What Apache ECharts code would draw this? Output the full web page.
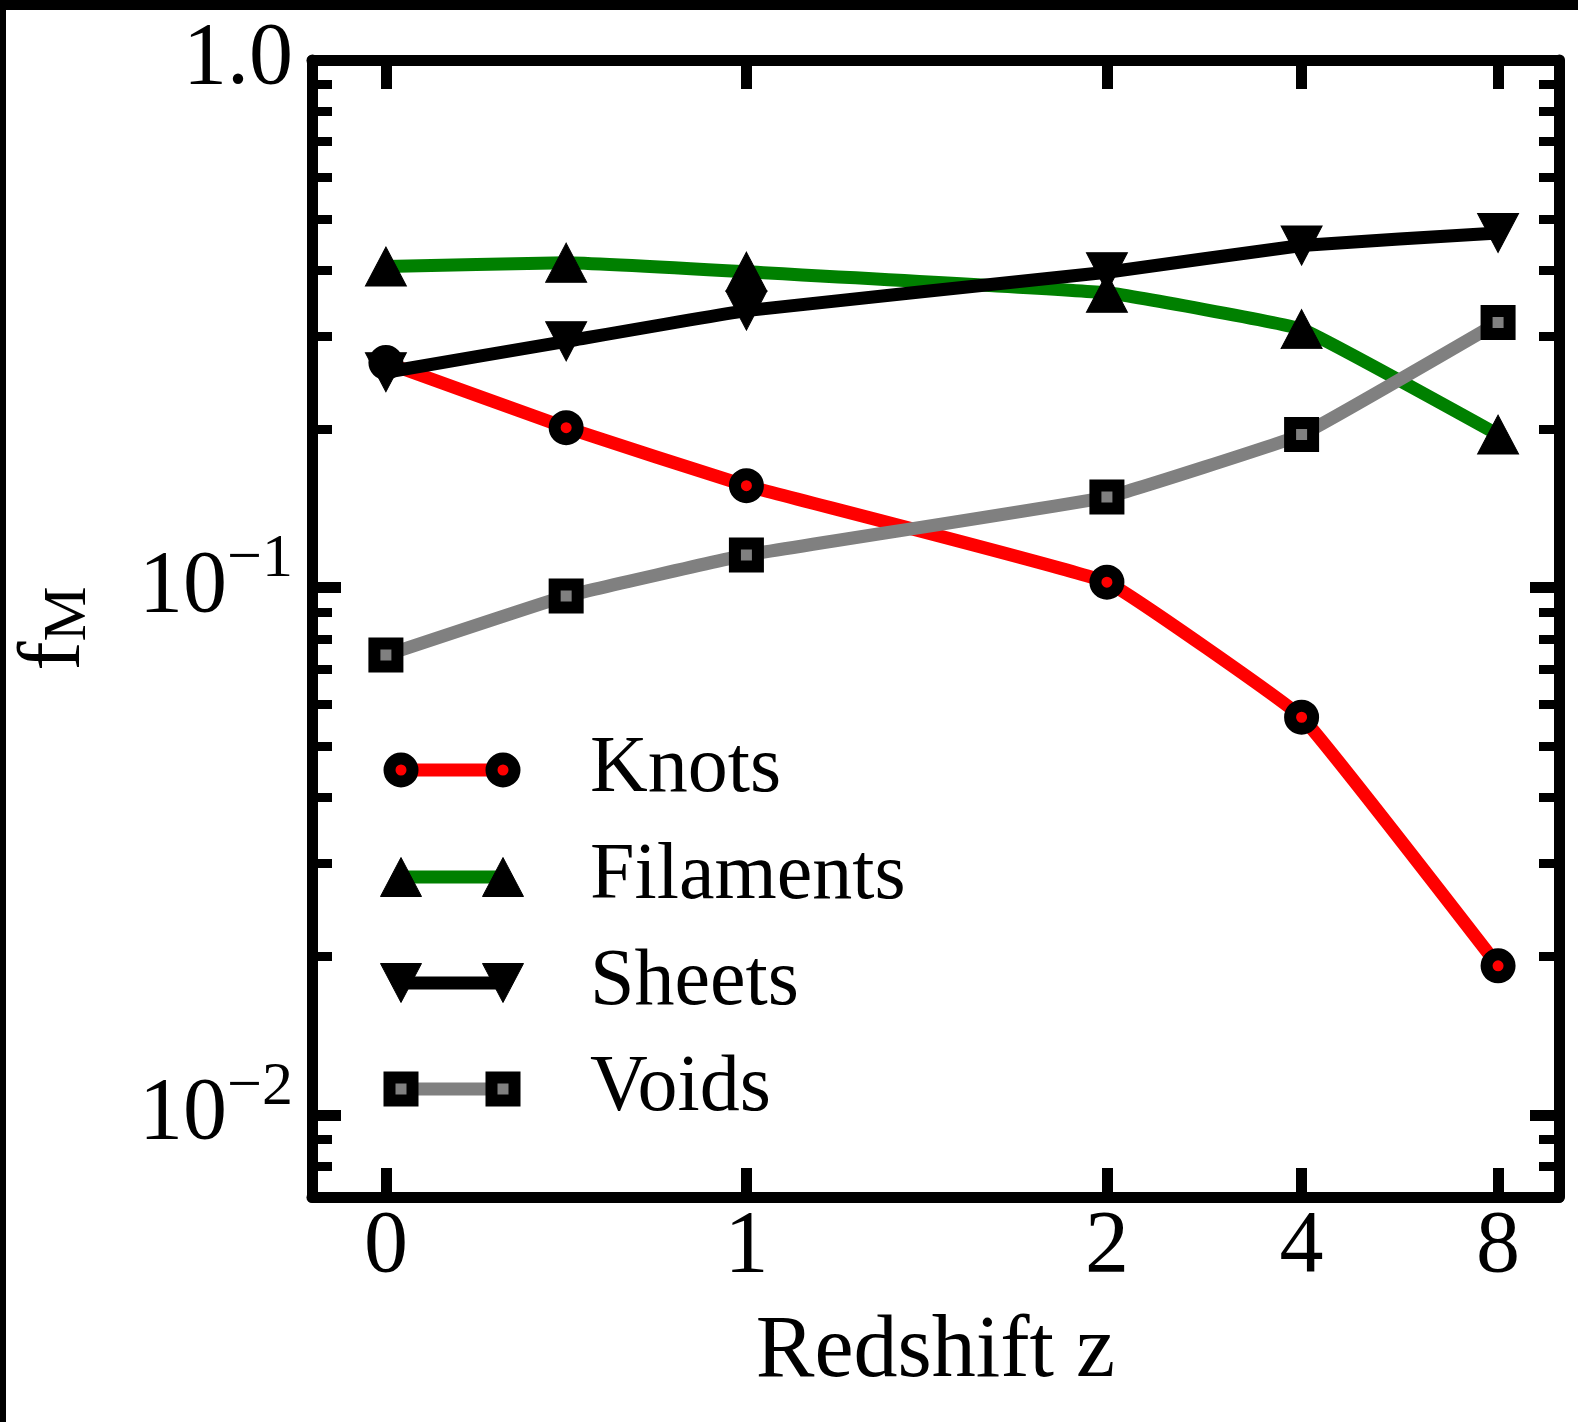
<!DOCTYPE html>
<html><head><meta charset="utf-8">
<script src="https://cdn.jsdelivr.net/npm/echarts@6/dist/echarts.min.js"></script>
<style>html,body{margin:0;padding:0;background:#fff}#c{width:1578px;height:1422px}</style>
</head><body><div id="c"></div>
<script>
// ---- data ----
const zValues = [0, 0.5, 1, 2, 4, 8];
const xPos = [0, 0.5, 1, 2, 2.54, 3.085];       // horizontal position of each redshift on the figure's axis
const tickLabels = ['0', '1', '2', '4', '8'];
const tickPos = [0, 1, 2, 2.54, 3.085];
const knots = [0.267, 0.201, 0.156, 0.1024, 0.0568, 0.0192];
const filaments = [0.406, 0.413, 0.397, 0.362, 0.309, 0.195];
const sheets = [0.256, 0.293, 0.335, 0.396, 0.445, 0.470];
const voids = [0.0745, 0.0964, 0.1153, 0.1485, 0.195, 0.318];
const yMajor = [0.01, 0.1, 1];
const yMinor = [0.007, 0.008, 0.009, 0.02, 0.03, 0.04, 0.05, 0.06, 0.07, 0.08, 0.09,
                0.2, 0.3, 0.4, 0.5, 0.6, 0.7, 0.8, 0.9];
const seriesNames = ['Knots', 'Filaments', 'Sheets', 'Voids'];

const FONT = 'Liberation Serif';
const chart = echarts.init(document.getElementById('c'), null, {renderer: 'canvas'});

const styles = {
  Knots:     {line: '#ff0000', symbol: 'circle', size: 23, fill: '#ff0000', bw: 12, rot: 0},
  Filaments: {line: '#008000', symbol: 'triangle', size: [41, 39], fill: '#000', bw: 1, rot: 0},
  Sheets:    {line: '#000000', symbol: 'triangle', size: [41, 39], fill: '#000', bw: 1, rot: 180},
  Voids:     {line: '#808080', symbol: 'rect', size: 23, fill: '#808080', bw: 12, rot: 0}
};
const values = {Knots: knots, Filaments: filaments, Sheets: sheets, Voids: voids};

function mkSeries(name) {
  const s = styles[name];
  return {
    name, type: 'line', xAxisIndex: 0, yAxisIndex: 0,
    data: xPos.map((x, i) => [x, values[name][i]]),
    smooth: 0.08,
    symbol: s.symbol, symbolSize: s.size, symbolRotate: s.rot, showAllSymbol: true,
    lineStyle: {color: s.line, width: 13},
    itemStyle: {color: s.fill, borderColor: '#000', borderWidth: s.bw},
    emphasis: {disabled: true}, silent: true
  };
}

const labelRich = {
  b: {fontSize: 88, fontFamily: FONT, color: '#000', lineHeight: 118},
  s: {fontSize: 62, fontFamily: FONT, color: '#000', lineHeight: 62, verticalAlign: 'top'}
};
function yFmt(v) {
  const e = Math.round(Math.log10(v));
  if (e === 0) return '{b|1.0}';
  return '{b|10}{s|\u2212' + Math.abs(e) + '}';
}

const baseY = {type: 'log', min: 0.007, max: 1, logBase: 10, gridIndex: 0, splitLine: {show: false}, minorTick: {show: false}};
const yAxes = [
  Object.assign({}, baseY, {position: 'left',
    axisLine: {show: true, onZero: false, lineStyle: {color: '#000', width: 11}},
    axisTick: {show: true, inside: true, length: 29, lineStyle: {color: '#000', width: 11}, customValues: yMajor},
    axisLabel: {show: true, margin: 19, customValues: yMajor, formatter: yFmt, rich: labelRich},
    name: '{f|f}{m|M}', nameLocation: 'middle', nameRotate: 90, nameGap: 212,
    nameTextStyle: {rich: {
      f: {fontSize: 88, fontFamily: FONT, color: '#000', lineHeight: 88},
      m: {fontSize: 62, fontFamily: FONT, color: '#000', lineHeight: 30, verticalAlign: 'bottom'}
    }}
  }),
  Object.assign({}, baseY, {position: 'left', axisLine: {show: false, onZero: false},
    axisTick: {show: true, inside: true, length: 20, lineStyle: {color: '#000', width: 9}, customValues: yMinor},
    axisLabel: {show: false}}),
  Object.assign({}, baseY, {position: 'right',
    axisLine: {show: true, onZero: false, lineStyle: {color: '#000', width: 11}},
    axisTick: {show: true, inside: true, length: 29, lineStyle: {color: '#000', width: 11}, customValues: yMajor},
    axisLabel: {show: false}}),
  Object.assign({}, baseY, {position: 'right', axisLine: {show: false, onZero: false},
    axisTick: {show: true, inside: true, length: 20, lineStyle: {color: '#000', width: 9}, customValues: yMinor},
    axisLabel: {show: false}})
];

const baseX = {type: 'value', min: -0.205, max: 3.254, gridIndex: 0, splitLine: {show: false}};
const xAxes = [
  Object.assign({}, baseX, {position: 'bottom',
    axisLine: {show: true, onZero: false, lineStyle: {color: '#000', width: 11}},
    axisTick: {show: true, inside: true, length: 29, lineStyle: {color: '#000', width: 11}, customValues: tickPos},
    axisLabel: {show: true, margin: 7, customValues: tickPos, fontSize: 88, fontFamily: FONT, color: '#000',
      formatter: v => { const i = tickPos.findIndex(p => Math.abs(p - v) < 1e-6); return i >= 0 ? tickLabels[i] : ''; }},
    name: 'Redshift z', nameLocation: 'middle', nameGap: 112,
    nameTextStyle: {fontSize: 88, fontFamily: FONT, color: '#000'}
  }),
  Object.assign({}, baseX, {position: 'top',
    axisLine: {show: true, onZero: false, lineStyle: {color: '#000', width: 11}},
    axisTick: {show: true, inside: true, length: 29, lineStyle: {color: '#000', width: 11}, customValues: tickPos},
    axisLabel: {show: false}})
];

// legend drawn as graphics (line with two markers, matplotlib style)
const legendRows = [770, 877, 983, 1089];
const legX1 = 401, legX2 = 503, legTextX = 590;
const legend = [];
seriesNames.forEach((name, i) => {
  const s = styles[name], y = legendRows[i];
  legend.push({type: 'line', shape: {x1: legX1, y1: y, x2: legX2, y2: y}, style: {stroke: s.line, lineWidth: 13}, z: 100});
  [legX1, legX2].forEach(x => {
    if (s.symbol === 'circle') {
      legend.push({type: 'circle', shape: {cx: x, cy: y, r: 11.5}, style: {fill: s.fill, stroke: '#000', lineWidth: 12}, z: 101});
    } else if (s.symbol === 'rect') {
      legend.push({type: 'rect', shape: {x: x - 11.5, y: y - 11.5, width: 23, height: 23}, style: {fill: s.fill, stroke: '#000', lineWidth: 12}, z: 101});
    } else {
      const w = 20.5, h = 19.5, d = s.rot ? -1 : 1;
      legend.push({type: 'polygon', shape: {points: [[x, y - d * h], [x - w, y + d * h], [x + w, y + d * h]]}, style: {fill: '#000', stroke: '#000', lineWidth: 1}, z: 101});
    }
  });
  legend.push({type: 'text', x: legTextX, y: y, style: {text: name, fontSize: 80, fontFamily: FONT, fill: '#000', verticalAlign: 'middle'}, z: 101});
});
// black frame remnants on the left and top edges
legend.push({type: 'rect', shape: {x: 0, y: 0, width: 6, height: 1422}, style: {fill: '#000'}, z: 200});
legend.push({type: 'rect', shape: {x: 0, y: 0, width: 1578, height: 10}, style: {fill: '#000'}, z: 200});

chart.setOption({
  animation: false,
  backgroundColor: '#fff',
  textStyle: {fontFamily: FONT},
  grid: {left: 312, right: 19, top: 60, bottom: 225, containLabel: false, outerBoundsMode: 'none'},
  xAxis: xAxes,
  yAxis: yAxes,
  series: seriesNames.map(mkSeries),
  graphic: legend
});
</script></body></html>
